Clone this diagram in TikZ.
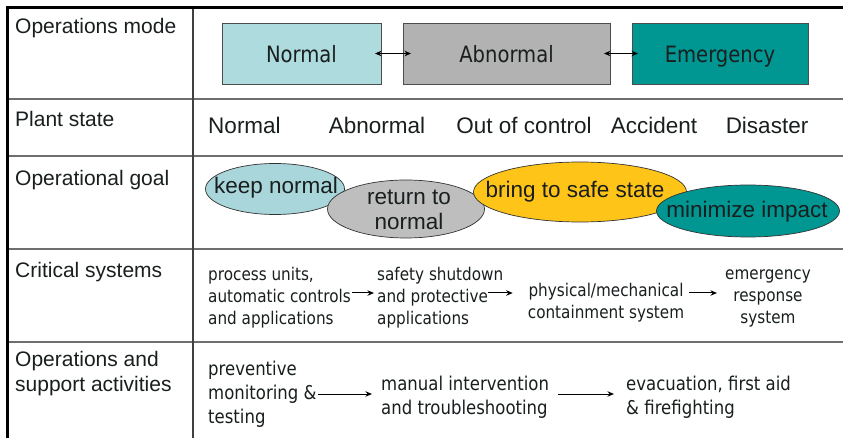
\documentclass[tikz,border=0pt]{standalone}
\usepackage{fontspec}
\setmainfont{Liberation Sans}
\newfontfamily\condfont[FakeStretch=0.87]{DejaVu Sans}
\usetikzlibrary{shapes.geometric,arrows.meta}

\definecolor{modeN}{RGB}{174,219,222}
\definecolor{modeA}{RGB}{178,178,178}
\definecolor{modeE}{RGB}{0,150,146}
\definecolor{goalK}{RGB}{168,214,218}
\definecolor{goalR}{RGB}{190,190,190}
\definecolor{goalB}{RGB}{255,196,24}
\definecolor{goalM}{RGB}{0,150,146}
\definecolor{rule}{RGB}{110,110,110}
\definecolor{ink}{RGB}{25,30,30}

\tikzset{
  rowlabel/.style={anchor=base west, inner sep=0pt, align=left,
    font=\fontsize{21}{24.5}\selectfont, text=ink},
  modebox/.style={draw=black!70, line width=0.8pt, minimum width=#1,
    minimum height=61pt, inner sep=0pt, outer sep=0pt},
  modetext/.style={anchor=base, inner sep=0pt,
    font=\condfont\fontsize{22.5}{26}\selectfont, text=ink},
  statetext/.style={anchor=base, inner sep=0pt,
    font=\fontsize{22.5}{26}\selectfont, text=ink},
  goalshape/.style={ellipse, draw=black!80, line width=0.7pt, inner sep=0pt},
  goaltext/.style={inner sep=0pt, align=center,
    font=\fontsize{22.5}{25}\selectfont, text=ink},
  systext/.style={inner sep=0pt, text=ink,
    font=\condfont\fontsize{17.5}{22}\selectfont},
  acttext/.style={inner sep=0pt, text=ink, align=left,
    font=\condfont\fontsize{19}{24}\selectfont},
  arr/.style={-{Stealth[length=6.5pt,width=5.5pt]}, line width=1pt, black},
  dblarr/.style={{Stealth[length=6.5pt,width=5.5pt]}-{Stealth[length=6.5pt,width=5.5pt]},
    line width=1pt, black},
}

\begin{document}
\begin{tikzpicture}[x=1pt,y=-1pt]
\useasboundingbox (0,0) rectangle (843,438);
\fill[white] (0,0) rectangle (843,438);

% table rules
\foreach \yy in {99,156,249,342}
  \draw[rule, line width=1.6pt] (7,\yy) -- (843,\yy);
\draw[black!75, line width=1.2pt] (193,8) -- (193,438);
\draw[black, line width=3pt] (7,8) -- (843,8);
\draw[black, line width=3pt] (7,6.5) -- (7,438);

% row labels
\node[rowlabel] (lab-mode)  at (15,34)  {Operations mode};
\node[rowlabel] (lab-state) at (15,127) {Plant state};
\node[rowlabel] (lab-goal)  at (15,186) {Operational goal};
\node[rowlabel] (lab-sys)   at (15,277) {Critical systems};
\node[rowlabel] (lab-act)   at (15,391) {Operations and\\support activities};

% operations mode
\node[modebox=159pt, fill=modeN] (mN) at (301.5,53.5) {};
\node[modebox=207pt, fill=modeA] (mA) at (506.5,53.5) {};
\node[modebox=176pt, fill=modeE] (mE) at (720,53.5) {};
\node[modetext] (mNt) at (301.5,63) {Normal};
\node[modetext] (mAt) at (506.5,63) {Abnormal};
\node[modetext] (mEt) at (720,63) {Emergency};
\draw[dblarr] ([xshift=-6pt]mN.east) -- ([xshift=8pt]mA.west);
\draw[dblarr] ([xshift=-6pt]mA.east) -- ([xshift=6pt]mE.west);

% plant state
\node[statetext] (s1) at (244.5,134) {Normal};
\node[statetext] (s2) at (377,134) {Abnormal};
\node[statetext] (s3) at (524,134) {Out of control};
\node[statetext] (s4) at (654,134) {Accident};
\node[statetext] (s5) at (767,134) {Disaster};

% operational goals
\node[goalshape, fill=goalK, minimum width=139pt, minimum height=51pt] (gK) at (275,189) {};
\node[goaltext] (gKt) at (276,188) {keep normal};
\node[goalshape, fill=goalR, minimum width=157pt, minimum height=58pt] (gR) at (406,209) {};
\node[goaltext] (gRt) at (409,210) {return to\\normal};
\node[goalshape, fill=goalB, minimum width=213pt, minimum height=60pt] (gB) at (580,192) {};
\node[goaltext] (gBt) at (575,192) {bring to safe state};
\node[goalshape, fill=goalM, minimum width=183pt, minimum height=52pt] (gM) at (748,211) {};
\node[goaltext] (gMt) at (747,212) {minimize impact};

% critical systems
\coordinate (sysrow) at (0,293);
\node[systext, anchor=west, align=left] (pu) at (208,298)
  {process units,\\automatic controls\\and applications};
\node[systext, anchor=west, align=left] (ss) at (377,298)
  {safety shutdown\\and protective\\applications};
\node[systext, align=center] (pm) at (606,303)
  {physical/mechanical\\containment system};
\node[systext, align=center] (er) at (768,298)
  {emergency\\response\\system};
\draw[arr, shorten <=1pt, shorten >=3pt] (pu.east |- sysrow) -- (ss.west |- sysrow);
\draw[arr] ([xshift=111pt]ss.west |- sysrow) -- ([xshift=-15pt]pm.west |- sysrow);
\draw[arr, shorten <=5pt, shorten >=8pt] (pm.east |- sysrow) -- (er.west |- sysrow);

% operations and support activities
\coordinate (actrow) at (0,394);
\node[acttext, anchor=west] (pmt) at (208,394)
  {preventive\\monitoring \&\\testing};
\node[acttext, anchor=west] (mi) at (381,397)
  {manual intervention\\and troubleshooting};
\node[acttext, anchor=west] (ev) at (626,397)
  {evacuation, first aid\\\& firefighting};
\draw[arr, shorten <=1pt, shorten >=9pt] (pmt.east |- actrow) -- (mi.west |- actrow);
\draw[arr, shorten <=9pt, shorten >=12pt] (mi.east |- actrow) -- (ev.west |- actrow);
\end{tikzpicture}
\end{document}
